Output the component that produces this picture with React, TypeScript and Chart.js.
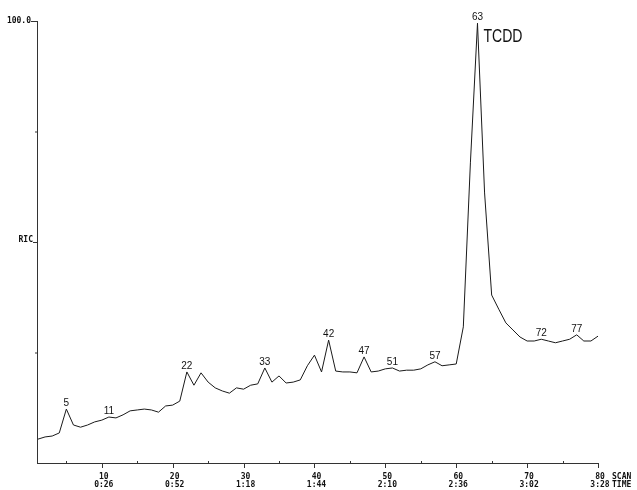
import React, { useEffect, useRef } from "react";
import { Chart, registerables } from "chart.js";

Chart.register(...registerables);

// Scan numbers (x) and relative ion current in % (y)
const scans: number[] = [
  1, 2, 3, 4, 5, 6, 7, 8, 9, 10,
  11, 12, 13, 14, 15, 16, 17, 18, 19, 20,
  21, 22, 23, 24, 25, 26, 27, 28, 29, 30,
  31, 32, 33, 34, 35, 36, 37, 38, 39, 40,
  41, 42, 43, 44, 45, 46, 47, 48, 49, 50,
  51, 52, 53, 54, 55, 56, 57, 58, 59, 60,
  61, 62, 63, 64, 65, 66, 67, 68, 69, 70,
  71, 72, 73, 74, 75, 76, 77, 78, 79, 80,
];

const ricValues: number[] = [
  5.4, 5.9, 6.1, 6.8, 12.2, 8.6, 8.1, 8.6, 9.3, 9.7,
  10.4, 10.2, 10.9, 11.8, 12.0, 12.2, 12.0, 11.5, 12.9, 13.1,
  14.0, 20.6, 17.6, 20.4, 18.3, 17.0, 16.3, 15.8, 17.0, 16.7,
  17.6, 17.9, 21.5, 18.3, 19.7, 18.1, 18.3, 18.8, 22.0, 24.4,
  20.6, 27.8, 20.8, 20.6, 20.6, 20.4, 24.0, 20.6, 20.8, 21.3,
  21.5, 20.8, 21.0, 21.0, 21.3, 22.2, 22.9, 22.0, 22.2, 22.4,
  30.8, 67.9, 99.5, 61.1, 38.0, 34.8, 31.7, 30.1, 28.5, 27.6,
  27.6, 28.0, 27.6, 27.2, 27.6, 28.0, 29.0, 27.6, 27.6, 28.7,
];

const xTickScans: number[] = [10, 20, 30, 40, 50, 60, 70, 80];
const xTickTimes: string[] = ["0:26", "0:52", "1:18", "1:44", "2:10", "2:36", "3:02", "3:28"];
const xMinorTicks: number[] = [5, 15, 25, 35, 45, 55, 65, 75];
const peakScans: number[] = [5, 11, 22, 33, 42, 47, 51, 57, 63, 72, 77];
const yTopLabel = "100.0";
const yMidLabel = "RIC";
const compoundLabel = "TCDD";
const compoundScan = 63;

const MONO = "bold 8px 'DejaVu Sans Mono', monospace";

const overlay = {
  id: "overlay",
  afterDraw(chart: any) {
    const ctx: CanvasRenderingContext2D = chart.ctx;
    const xs = chart.scales.x;
    const ys = chart.scales.y;
    const x0 = xs.getPixelForValue(1) - 1;
    const x1 = xs.getPixelForValue(80);
    const yb = ys.getPixelForValue(0);
    const yt = ys.getPixelForValue(100);
    ctx.save();
    // axes
    ctx.strokeStyle = "#333";
    ctx.lineWidth = 1;
    ctx.beginPath();
    ctx.moveTo(x0 + 0.5, yt);
    ctx.lineTo(x0 + 0.5, yb);
    ctx.moveTo(x0, yb + 0.5);
    ctx.lineTo(x1 + 1, yb + 0.5);
    ctx.stroke();
    // y ticks
    ctx.beginPath();
    ctx.moveTo(x0 - 6, yt + 0.5);
    ctx.lineTo(x0 + 1, yt + 0.5);
    const ym = ys.getPixelForValue(50);
    ctx.moveTo(x0 - 4, ym + 0.5);
    ctx.lineTo(x0 + 1, ym + 0.5);
    const y25 = ys.getPixelForValue(25);
    const y75 = ys.getPixelForValue(75);
    ctx.moveTo(x0 - 2, y25 + 0.5);
    ctx.lineTo(x0, y25 + 0.5);
    ctx.moveTo(x0 - 2, y75 + 0.5);
    ctx.lineTo(x0, y75 + 0.5);
    // x ticks
    xTickScans.forEach((s) => {
      const px = Math.round(xs.getPixelForValue(s)) + 0.5;
      ctx.moveTo(px, yb);
      ctx.lineTo(px, yb + 5);
    });
    xMinorTicks.forEach((s) => {
      const px = Math.round(xs.getPixelForValue(s)) + 0.5;
      ctx.moveTo(px, yb - 2);
      ctx.lineTo(px, yb);
    });
    ctx.stroke();
    // axis labels
    ctx.fillStyle = "#111";
    ctx.font = MONO;
    ctx.textAlign = "right";
    ctx.textBaseline = "middle";
    ctx.fillText(yTopLabel, x0 - 6, yt);
    ctx.fillText(yMidLabel, x0 - 4, ym - 2);
    ctx.textAlign = "center";
    ctx.textBaseline = "alphabetic";
    xTickScans.forEach((s, i) => {
      const px = xs.getPixelForValue(s) + 2;
      ctx.fillText(String(s), px, yb + 16);
      ctx.fillText(xTickTimes[i], px, yb + 24);
    });
    ctx.textAlign = "left";
    ctx.fillText("SCAN", x1 + 14, yb + 16);
    ctx.fillText("TIME", x1 + 14, yb + 24);
    // peak labels
    ctx.font = "10px 'Liberation Sans', Arial, sans-serif";
    ctx.textAlign = "center";
    ctx.textBaseline = "bottom";
    peakScans.forEach((s) => {
      const v = ricValues[scans.indexOf(s)];
      const px = xs.getPixelForValue(s);
      const py = ys.getPixelForValue(v);
      ctx.fillText(String(s), px, py - 1);
    });
    // compound label
    const cx = xs.getPixelForValue(compoundScan) + 6;
    const cy = ys.getPixelForValue(100) + 21;
    ctx.translate(cx, cy);
    ctx.scale(0.78, 1);
    ctx.font = "18px 'Liberation Sans', Arial, sans-serif";
    ctx.textAlign = "left";
    ctx.textBaseline = "alphabetic";
    ctx.fillText(compoundLabel, 0, 0);
    ctx.restore();
  },
};

export default function App() {
  const ref = useRef<HTMLCanvasElement | null>(null);
  useEffect(() => {
    if (!ref.current) return;
    const chart = new Chart(ref.current, {
      type: "line",
      data: {
        datasets: [
          {
            data: scans.map((s, i) => ({ x: s, y: ricValues[i] })),
            borderColor: "#1a1a1a",
            borderWidth: 1,
            pointRadius: 0,
            tension: 0,
            fill: false,
          },
        ],
      },
      options: {
        animation: false,
        responsive: false,
        devicePixelRatio: 1,
        layout: { padding: { left: 38, right: 39, top: 21, bottom: 27 } },
        plugins: { legend: { display: false }, tooltip: { enabled: false } },
        scales: {
          x: { type: "linear", min: 1, max: 80, display: false },
          y: { type: "linear", min: 0, max: 100, display: false },
        },
      },
      plugins: [overlay],
    });
    return () => chart.destroy();
  }, []);
  return (
    <div style={{ position: "absolute", left: 0, top: 0, width: 637, height: 490, background: "#fff" }}>
      <canvas ref={ref} width={637} height={490} style={{ width: 637, height: 490 }} />
    </div>
  );
}
